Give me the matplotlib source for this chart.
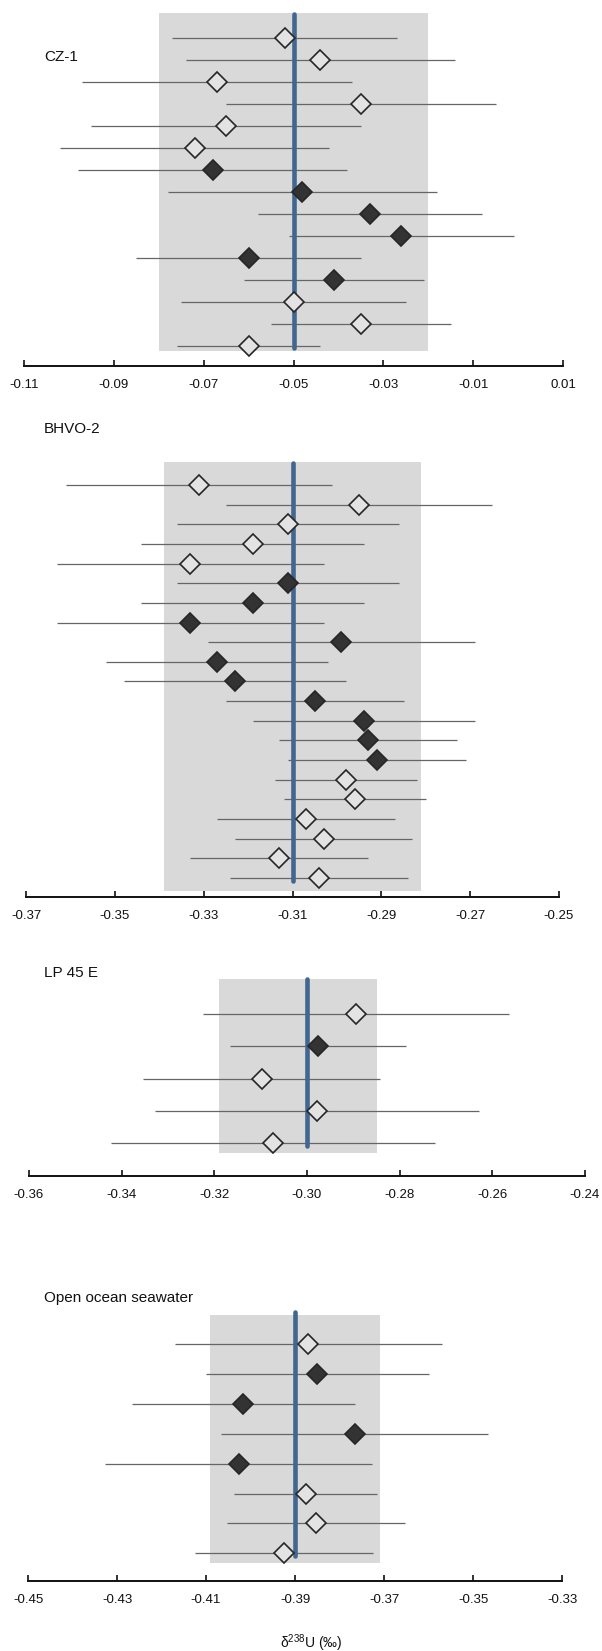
import matplotlib

matplotlib.use("Agg")
import matplotlib.pyplot as plt

# --- data -------------------------------------------------------------
cz1_vals = [-0.052, -0.044, -0.067, -0.035, -0.065, -0.072, -0.068, -0.048,
            -0.033, -0.026, -0.060, -0.041, -0.050, -0.035, -0.060]
cz1_errs = [0.025, 0.030, 0.030, 0.030, 0.030, 0.030, 0.030, 0.030,
            0.025, 0.025, 0.025, 0.020, 0.025, 0.020, 0.016]
cz1_filled = [0, 0, 0, 0, 0, 0, 1, 1, 1, 1, 1, 1, 0, 0, 0]
cz1_band = (-0.080, -0.020)
cz1_mean = -0.050
cz1_ticks = [-0.11, -0.09, -0.07, -0.05, -0.03, -0.01, 0.01]

bhvo_vals = [-0.331, -0.295, -0.311, -0.319, -0.333, -0.311, -0.319, -0.333,
             -0.299, -0.327, -0.323, -0.305, -0.294, -0.293, -0.291, -0.298,
             -0.296, -0.307, -0.303, -0.313, -0.304]
bhvo_errs = [0.030, 0.030, 0.025, 0.025, 0.030, 0.025, 0.025, 0.030, 0.030,
             0.025, 0.025, 0.020, 0.025, 0.020, 0.020, 0.016, 0.016, 0.020,
             0.020, 0.020, 0.020]
bhvo_filled = [0, 0, 0, 0, 0, 1, 1, 1, 1, 1, 1, 1, 1, 1, 1, 0, 0, 0, 0, 0, 0]
bhvo_band = (-0.339, -0.281)
bhvo_mean = -0.310
bhvo_ticks = [-0.37, -0.35, -0.33, -0.31, -0.29, -0.27, -0.25]

lp_vals = [-0.2895, -0.2976, -0.3098, -0.2978, -0.3073]
lp_errs = [0.033, 0.019, 0.0255, 0.035, 0.035]
lp_filled = [0, 1, 0, 0, 0]
lp_band = (-0.319, -0.285)
lp_mean = -0.300
lp_ticks = [-0.36, -0.34, -0.32, -0.30, -0.28, -0.26, -0.24]

sw_vals = [-0.387, -0.385, -0.4016, -0.3766, -0.4026, -0.3876, -0.3853, -0.3924]
sw_errs = [0.030, 0.025, 0.025, 0.030, 0.030, 0.016, 0.020, 0.020]
sw_filled = [0, 1, 1, 1, 1, 0, 0, 0]
sw_band = (-0.409, -0.371)
sw_mean = -0.390
sw_ticks = [-0.45, -0.43, -0.41, -0.39, -0.37, -0.35, -0.33]

titles = ["CZ-1", "BHVO-2", "LP 45 E", "Open ocean seawater"]

# --- style ------------------------------------------------------------
W, H = 602, 1651
BAND = "#d9d9d9"
BLUE = "#41668f"
BAR = "#666666"
OPEN_FACE = "#e3e3e3"
DARK = "#333333"

plt.rcParams.update({
    "font.family": ["Liberation Sans", "DejaVu Sans"],
    "mathtext.fontset": "custom",
    "mathtext.rm": "Liberation Sans",
    "mathtext.it": "Liberation Sans:italic",
})

# pixel layout: tick span x0..x1, first row y, row step, axis y,
# band top/bottom, blue line top/bottom, title y
layouts = [
    dict(x0=24, x1=563, first=37.7, step=22.0, axis=366, band=(13, 351), line=(14, 348), ty=57),
    dict(x0=26, x1=559, first=485, step=19.65, axis=897, band=(462, 891), line=(463, 881), ty=429),
    dict(x0=29, x1=585, first=1014, step=32.3, axis=1176, band=(979, 1153), line=(979, 1146), ty=973),
    dict(x0=28, x1=562, first=1344, step=29.9, axis=1581, band=(1315, 1563), line=(1312, 1556), ty=1298),
]

panels = [
    (cz1_vals, cz1_errs, cz1_filled, cz1_band, cz1_mean, cz1_ticks),
    (bhvo_vals, bhvo_errs, bhvo_filled, bhvo_band, bhvo_mean, bhvo_ticks),
    (lp_vals, lp_errs, lp_filled, lp_band, lp_mean, lp_ticks),
    (sw_vals, sw_errs, sw_filled, sw_band, sw_mean, sw_ticks),
]

fig = plt.figure(figsize=(W / 100, H / 100), dpi=100)


def to_row(y, lay):
    return (y - lay["first"]) / lay["step"]


for (vals, errs, filled, band, mean, ticks), lay, title in zip(panels, layouts, titles):
    top_px = min(lay["band"][0], lay["line"][0]) - 3
    ax = fig.add_axes([lay["x0"] / W, 1 - lay["axis"] / H,
                       (lay["x1"] - lay["x0"]) / W, (lay["axis"] - top_px) / H])
    ax.set_xlim(ticks[0], ticks[-1])
    ax.set_ylim(to_row(lay["axis"], lay), to_row(top_px, lay))

    ax.fill_betweenx([to_row(lay["band"][0], lay), to_row(lay["band"][1], lay)],
                     band[0], band[1], color=BAND, lw=0, zorder=1)

    rows = list(range(len(vals)))
    for r, v, e in zip(rows, vals, errs):
        ax.plot([v - e, v + e], [r, r], color=BAR, lw=0.9, zorder=2,
                solid_capstyle="butt")

    ax.plot([mean, mean], [to_row(lay["line"][0], lay), to_row(lay["line"][1], lay)],
            color=BLUE, lw=3.3, solid_capstyle="round", zorder=3)

    for r, v, f in zip(rows, vals, filled):
        ax.plot(v, r, marker="D", ms=10.5, mew=1.2,
                mfc=DARK if f else OPEN_FACE, mec="#262626", zorder=4)

    for side in ("left", "top", "right"):
        ax.spines[side].set_visible(False)
    ax.spines["bottom"].set_linewidth(1.4)
    ax.spines["bottom"].set_color("#111111")
    ax.set_yticks([])
    ax.set_xticks(ticks)
    ax.set_xticklabels([f"{t:.2f}" for t in ticks])
    ax.tick_params(axis="x", direction="in", length=4, width=1.2, pad=9,
                   labelsize=9.5, colors="#111111")
    ax.patch.set_visible(False)

    fig.text(44 / W, 1 - lay["ty"] / H, title, fontsize=11, va="center", ha="left",
             color="#111111")

fig.text(311 / W, 1 - 1643 / H, r"$\mathrm{\delta}^{238}$U (‰)", fontsize=10,
         ha="center", va="center", color="#111111")

fig.savefig("out.png", dpi=100)
